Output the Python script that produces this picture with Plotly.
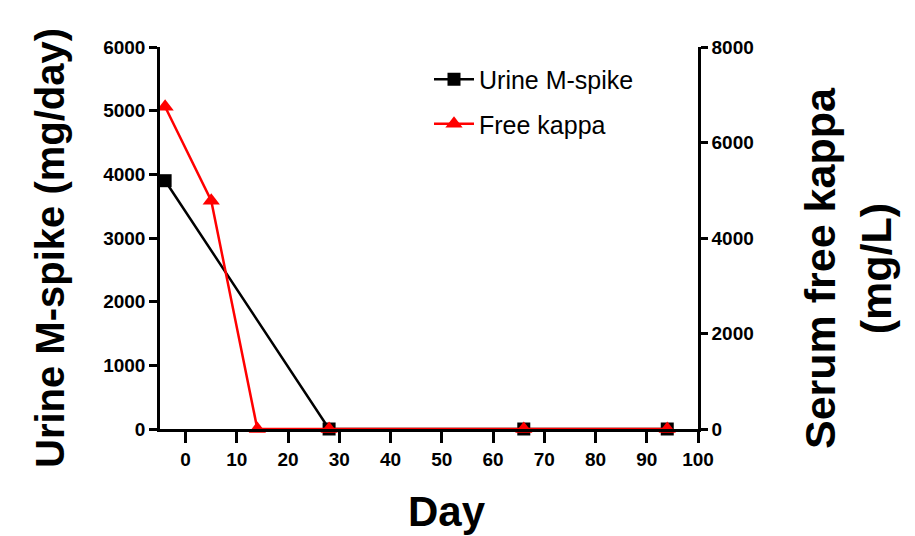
import plotly.graph_objects as go

day_urine = [-4, 28, 66, 94]
urine_mspike = [3900, 0, 0, 0]
day_kappa = [-4, 5, 14, 28, 66, 94]
free_kappa = [6750, 4780, 0, 0, 0, 0]

x_ticks = list(range(0, 101, 10))
y1_ticks = list(range(0, 6001, 1000))
y2_ticks = list(range(0, 8001, 2000))

FONT = "Liberation Sans, Arial, sans-serif"

fig = go.Figure()
fig.add_trace(go.Scatter(
    x=day_urine, y=urine_mspike, name="Urine M-spike", mode="lines+markers",
    line=dict(color="black", width=2.5),
    marker=dict(symbol="square", size=13, color="black"),
    cliponaxis=False, legendgroup="a"))
fig.add_trace(go.Scatter(
    x=day_kappa, y=free_kappa, name="Free kappa", mode="lines+markers",
    line=dict(color="red", width=2.5),
    marker=dict(symbol="triangle-up", size=15, color="red"),
    cliponaxis=False, yaxis="y2", legendgroup="b"))

def axis_common(ticklen):
    return dict(
        showline=True, linecolor="black", linewidth=2.5,
        ticks="outside", ticklen=ticklen, tickwidth=2.5, tickcolor="black",
        showgrid=False, zeroline=False,
        tickfont=dict(family=FONT, size=19, color="black", weight="bold"),
    )

fig.update_layout(
    width=915, height=536,
    margin=dict(l=160, r=217, t=47, b=107),
    paper_bgcolor="white", plot_bgcolor="white",
    xaxis=dict(range=[-5, 100], tickvals=x_ticks, **axis_common(11)),
    yaxis=dict(range=[0, 6000], tickvals=y1_ticks, **axis_common(8)),
    yaxis2=dict(range=[0, 8000], tickvals=y2_ticks, overlaying="y", side="right",
                anchor="x", **axis_common(7)),
    legend=dict(x=0.5, y=0.975, xanchor="left", yanchor="top",
                font=dict(family=FONT, size=25, color="black"),
                bgcolor="rgba(0,0,0,0)", tracegroupgap=9, itemwidth=40),
    showlegend=True,
    annotations=[
        dict(text="<b>Urine M-spike (mg/day)</b>", x=50, y=248, showarrow=False,
             textangle=-90, font=dict(family=FONT, size=40, color="black")),
        dict(text="<b>Serum free kappa<br>(mg/L)</b>", x=848, y=268, showarrow=False,
             textangle=-90, font=dict(family=FONT, size=43, color="black")),
        dict(text="<b>Day</b>", x=447, y=511, showarrow=False,
             font=dict(family=FONT, size=42, color="black")),
    ],
)

# convert pixel positions of annotations to paper coords
pw = 915 - 160 - 217
ph = 536 - 47 - 107
new_ann = []
for a in fig.layout.annotations:
    px, py = a.x, a.y
    a.update(xref="paper", yref="paper",
             x=(px - 160) / pw, y=(536 - 107 - py) / ph,
             xanchor="center", yanchor="middle")
    new_ann.append(a)
fig.layout.annotations = new_ann

fig.write_html("out.html")
